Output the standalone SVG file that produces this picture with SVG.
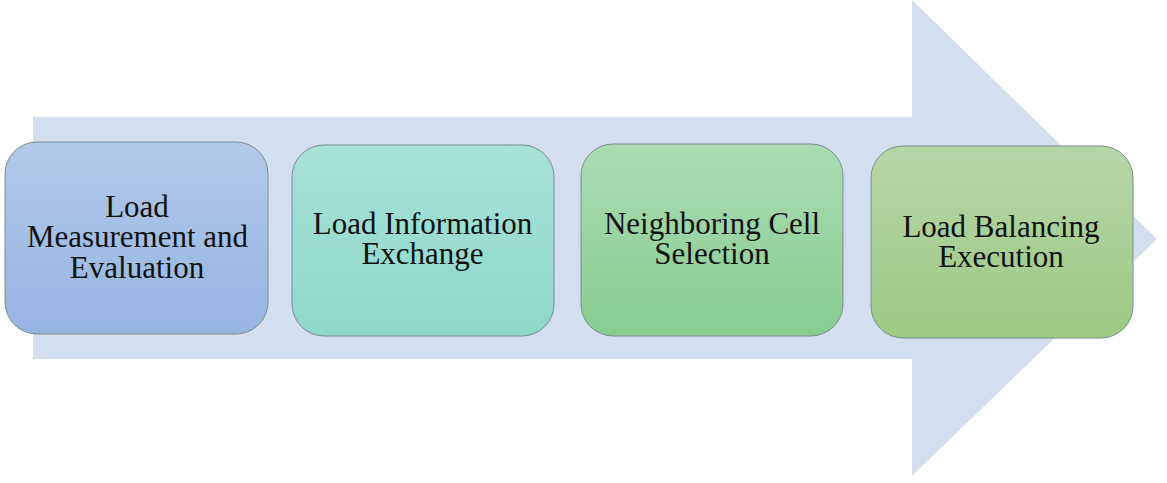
<svg xmlns="http://www.w3.org/2000/svg" width="1167" height="483" viewBox="0 0 1167 483">
<defs>
<linearGradient id="g1" x1="0" y1="0" x2="0" y2="1"><stop offset="0" stop-color="#b1c9e9"/><stop offset="1" stop-color="#95b5e1"/></linearGradient>
<linearGradient id="g2" x1="0" y1="0" x2="0" y2="1"><stop offset="0" stop-color="#a9e2d9"/><stop offset="1" stop-color="#8cd8c8"/></linearGradient>
<linearGradient id="g3" x1="0" y1="0" x2="0" y2="1"><stop offset="0" stop-color="#abdcb3"/><stop offset="1" stop-color="#87cc8f"/></linearGradient>
<linearGradient id="g4" x1="0" y1="0" x2="0" y2="1"><stop offset="0" stop-color="#b5d6a6"/><stop offset="1" stop-color="#9cc985"/></linearGradient>
</defs>
<style>
.box{stroke:#7d8c8a;stroke-width:1}
.t{font-size:31px;fill:#111;text-anchor:middle}
</style>
<rect width="1167" height="483" fill="#ffffff"/>
<g id="arrow">
<polygon points="33,117 912,117 912,0 1157,239 912,476 912,359 33,359" fill="#d3deef"/>
</g>
<g font-family="'Liberation Serif', 'DejaVu Serif', serif">
<g id="node1">
<rect class="box" x="5" y="142" width="263" height="192" rx="32" fill="url(#g1)"/>
<text class="t"><tspan x="137" y="217">Load</tspan><tspan x="137.5" y="247">Measurement and</tspan><tspan x="137" y="278">Evaluation</tspan></text>
</g>
<g id="node2">
<rect class="box" x="292" y="145" width="262" height="191" rx="32" fill="url(#g2)"/>
<text class="t"><tspan x="422.5" y="234">Load Information</tspan><tspan x="422.5" y="264">Exchange</tspan></text>
</g>
<g id="node3">
<rect class="box" x="581" y="144" width="262" height="192" rx="32" fill="url(#g3)"/>
<text class="t"><tspan x="712" y="234">Neighboring Cell</tspan><tspan x="712" y="264">Selection</tspan></text>
</g>
<g id="node4">
<rect class="box" x="871" y="146" width="262" height="192" rx="32" fill="url(#g4)"/>
<text class="t"><tspan x="1001" y="237">Load Balancing</tspan><tspan x="1001" y="267">Execution</tspan></text>
</g>
</g>
<g id="connectors"></g>
</svg>
